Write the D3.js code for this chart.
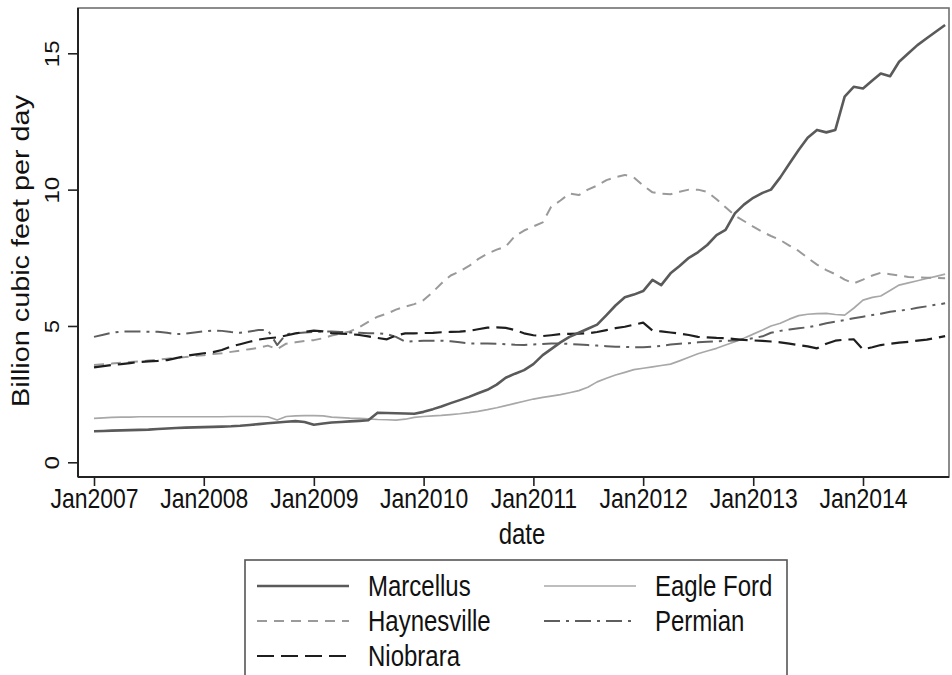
<!DOCTYPE html>
<html>
<head>
<meta charset="utf-8">
<script src="https://cdn.jsdelivr.net/npm/d3@7"></script>
<style>
  html, body { margin: 0; padding: 0; background: #fff; }
  svg { display: block; font-family: "Liberation Sans", Arial, Helvetica, sans-serif; }
</style>
</head>
<body>
<svg id="chart" width="952" height="675"></svg>
<script>
// Monthly dry gas production by shale play, Jan 2007 – Oct 2014 (Bcf/d)
const startMonth = "2007-01";
const monthCount = 94;

const marcellus = [
  1.14, 1.15, 1.16, 1.17, 1.18, 1.19, 1.20, 1.22, 1.24, 1.26, 1.27, 1.28,
  1.29, 1.30, 1.31, 1.32, 1.34, 1.37, 1.40, 1.43, 1.46, 1.49, 1.51, 1.48,
  1.38, 1.42, 1.46, 1.48, 1.50, 1.52, 1.54, 1.82, 1.81, 1.80, 1.79, 1.78,
  1.85, 1.95, 2.05, 2.17, 2.28, 2.40, 2.53, 2.66, 2.85, 3.10, 3.25, 3.38,
  3.60, 3.93, 4.15, 4.40, 4.60, 4.75, 4.90, 5.05, 5.40, 5.75, 6.05, 6.15,
  6.28, 6.69, 6.50, 6.93, 7.20, 7.50, 7.70, 7.97, 8.33, 8.52, 9.13, 9.45,
  9.70, 9.88, 10.00, 10.45, 10.95, 11.45, 11.90, 12.19, 12.10, 12.19, 13.41, 13.77,
  13.71, 14.00, 14.26, 14.16, 14.69, 15.00, 15.30, 15.55, 15.80, 16.04
];

const haynesville = [
  3.57, 3.60, 3.62, 3.65, 3.68, 3.70, 3.73, 3.76, 3.80, 3.83, 3.86, 3.90,
  3.93, 3.97, 4.00, 4.05, 4.10, 4.15, 4.20, 4.28, 4.15, 4.35, 4.40, 4.45,
  4.48, 4.55, 4.65, 4.72, 4.80, 4.95, 5.15, 5.34, 5.45, 5.60, 5.71, 5.80,
  5.95, 6.25, 6.56, 6.85, 7.00, 7.20, 7.45, 7.65, 7.80, 7.91, 8.30, 8.50,
  8.65, 8.80, 9.37, 9.60, 9.86, 9.80, 10.00, 10.15, 10.35, 10.45, 10.54, 10.45,
  10.15, 9.90, 9.85, 9.83, 9.92, 10.00, 10.00, 9.92, 9.65, 9.35, 9.05, 8.85,
  8.64, 8.45, 8.30, 8.15, 7.95, 7.75, 7.50, 7.25, 7.05, 6.90, 6.70, 6.56,
  6.70, 6.85, 6.95, 6.90, 6.85, 6.80, 6.78, 6.77, 6.76, 6.75
];

const niobrara = [
  3.48, 3.53, 3.57, 3.60, 3.64, 3.68, 3.70, 3.72, 3.75, 3.82, 3.90, 3.95,
  4.00, 4.04, 4.12, 4.25, 4.33, 4.42, 4.50, 4.55, 4.58, 4.65, 4.73, 4.78,
  4.83, 4.80, 4.74, 4.72, 4.70, 4.67, 4.62, 4.56, 4.51, 4.65, 4.73, 4.73,
  4.74, 4.75, 4.77, 4.78, 4.79, 4.82, 4.88, 4.94, 4.95, 4.93, 4.85, 4.73,
  4.66, 4.63, 4.66, 4.70, 4.71, 4.72, 4.73, 4.78, 4.85, 4.92, 4.97, 5.05,
  5.12, 4.83, 4.80, 4.76, 4.72, 4.67, 4.60, 4.58, 4.56, 4.55, 4.52, 4.49,
  4.47, 4.45, 4.43, 4.40, 4.35, 4.30, 4.25, 4.18, 4.35, 4.46, 4.50, 4.51,
  4.14, 4.22, 4.30, 4.35, 4.39, 4.42, 4.46, 4.50, 4.56, 4.63
];

const eagleFord = [
  1.61, 1.63, 1.65, 1.66, 1.66, 1.67, 1.67, 1.67, 1.67, 1.67, 1.67, 1.67,
  1.67, 1.67, 1.67, 1.68, 1.68, 1.68, 1.68, 1.67, 1.55, 1.68, 1.70, 1.71,
  1.71, 1.70, 1.66, 1.64, 1.62, 1.61, 1.59, 1.57, 1.56, 1.55, 1.58, 1.65,
  1.68, 1.70, 1.72, 1.75, 1.78, 1.82, 1.87, 1.93, 2.00, 2.08, 2.16, 2.24,
  2.32, 2.38, 2.43, 2.48, 2.55, 2.63, 2.75, 2.95, 3.08, 3.20, 3.30, 3.40,
  3.45, 3.50, 3.55, 3.60, 3.72, 3.85, 3.98, 4.08, 4.18, 4.30, 4.42, 4.55,
  4.70, 4.85, 5.00, 5.10, 5.25, 5.38, 5.43, 5.45, 5.46, 5.42, 5.40, 5.65,
  5.95, 6.05, 6.10, 6.30, 6.50, 6.58, 6.66, 6.74, 6.82, 6.90
];

const permian = [
  4.60, 4.68, 4.75, 4.79, 4.80, 4.80, 4.79, 4.79, 4.75, 4.70, 4.72, 4.76,
  4.80, 4.83, 4.82, 4.78, 4.75, 4.80, 4.85, 4.85, 4.30, 4.70, 4.73, 4.76,
  4.78, 4.80, 4.80, 4.78, 4.76, 4.75, 4.73, 4.73, 4.70, 4.60, 4.42, 4.44,
  4.46, 4.46, 4.46, 4.44, 4.40, 4.36, 4.36, 4.36, 4.35, 4.33, 4.31, 4.30,
  4.32, 4.34, 4.36, 4.36, 4.34, 4.32, 4.30, 4.28, 4.26, 4.24, 4.23, 4.22,
  4.22, 4.24, 4.27, 4.32, 4.35, 4.37, 4.40, 4.42, 4.44, 4.45, 4.47, 4.50,
  4.55, 4.62, 4.75, 4.82, 4.87, 4.92, 4.95, 5.02, 5.10, 5.16, 5.22, 5.28,
  5.34, 5.40, 5.45, 5.52, 5.56, 5.60, 5.67, 5.72, 5.78, 5.83
];

const yTicks = [0, 5, 10, 15];
const xTickYears = [2007, 2008, 2009, 2010, 2011, 2012, 2013, 2014];

const seriesNames = ["Marcellus", "Eagle Ford", "Haynesville", "Permian", "Niobrara"];
const seriesValues = [marcellus, eagleFord, haynesville, permian, niobrara];

// Stata-style monochrome line patterns
const styles = {
  "Marcellus":   { color: "#5a5a5a", width: 2.6, dash: null },
  "Eagle Ford":  { color: "#a8a8a8", width: 1.7, dash: null },
  "Haynesville": { color: "#9a9a9a", width: 2.0, dash: "10,7" },
  "Permian":     { color: "#5e5e5e", width: 2.0, dash: "16,6,3,6" },
  "Niobrara":    { color: "#1e1e1e", width: 2.2, dash: "17,7" }
};

// text is set slightly tall, as in the Stata export
const FONT = 24;
const STRETCH = 1.2;

const svg = d3.select("#chart");

const frame = { left: 78, right: 949, top: 8, bottom: 477 };

const parseMonth = d3.utcParse("%Y-%m");
const t0 = parseMonth(startMonth);
const dates = d3.range(monthCount).map(i => d3.utcMonth.offset(t0, i));

const x = d3.scaleUtc()
  .domain([new Date(Date.UTC(2007, 0, 1)), new Date(Date.UTC(2014, 0, 1))])
  .range([94, 863]);

const y = d3.scaleLinear()
  .domain([0, 15])
  .range([462.3, 53.3]);

// plot region outline
svg.append("rect")
  .attr("x", frame.left).attr("y", frame.top)
  .attr("width", frame.right - frame.left)
  .attr("height", frame.bottom - frame.top)
  .attr("fill", "none")
  .attr("stroke", "#707070")
  .attr("stroke-width", 1.6);

// series lines
const line = d3.line()
  .x((d, i) => x(dates[i]))
  .y(d => y(d));

const drawOrder = ["Eagle Ford", "Haynesville", "Permian", "Niobrara", "Marcellus"];
drawOrder.forEach(name => {
  const vals = seriesValues[seriesNames.indexOf(name)];
  const s = styles[name];
  svg.append("path")
    .datum(vals)
    .attr("fill", "none")
    .attr("stroke", s.color)
    .attr("stroke-width", s.width)
    .attr("stroke-linejoin", "round")
    .attr("stroke-dasharray", s.dash)
    .attr("d", line);
});

// y axis
const yAxis = d3.axisLeft(y)
  .tickValues(yTicks)
  .tickSize(10)
  .tickFormat(d3.format("d"));
const yg = svg.append("g")
  .attr("transform", `translate(${frame.left},0)`)
  .call(yAxis);
yg.attr("font-family", null).attr("font-size", null);
yg.select(".domain")
  .attr("d", `M0,${frame.bottom}V${frame.top}`)
  .attr("stroke", "#222").attr("stroke-width", 2);
yg.selectAll(".tick line").attr("stroke", "#222").attr("stroke-width", 1.6);
yg.selectAll(".tick text")
  .attr("x", null).attr("dy", null)
  .attr("transform", `translate(-19,0) rotate(-90) scale(${STRETCH},1)`)
  .attr("text-anchor", "middle")
  .attr("fill", "#111")
  .style("font-size", "20px");

// x axis
const xAxis = d3.axisBottom(x)
  .tickValues(xTickYears.map(yr => new Date(Date.UTC(yr, 0, 1))))
  .tickSize(9)
  .tickFormat(d3.utcFormat("%b%Y"));
const xg = svg.append("g")
  .attr("transform", `translate(0,${frame.bottom})`)
  .call(xAxis);
xg.attr("font-family", null).attr("font-size", null);
xg.select(".domain")
  .attr("d", `M${frame.left},0H${frame.right}`)
  .attr("stroke", "#222").attr("stroke-width", 2.2);
xg.selectAll(".tick line").attr("stroke", "#222").attr("stroke-width", 1.6);
xg.selectAll(".tick text")
  .attr("y", null).attr("dy", null)
  .attr("transform", `translate(0,31) scale(1,${STRETCH})`)
  .attr("fill", "#111")
  .style("font-size", "23px");

// axis titles
svg.append("text")
  .attr("transform", `translate(29,251) rotate(-90) scale(${STRETCH},1)`)
  .attr("text-anchor", "middle")
  .attr("fill", "#111")
  .style("font-size", FONT + "px")
  .text("Billion cubic feet per day");

svg.append("text")
  .attr("transform", `translate(522,544) scale(1,${STRETCH})`)
  .attr("text-anchor", "middle")
  .attr("fill", "#111")
  .style("font-size", FONT + "px")
  .text("date");

// legend
const legend = svg.append("g");
legend.append("rect")
  .attr("x", 245).attr("y", 560)
  .attr("width", 542).attr("height", 140)
  .attr("fill", "#fff")
  .attr("stroke", "#555")
  .attr("stroke-width", 1.6);

const legendLayout = [
  { name: "Marcellus",   col: 0, row: 0 },
  { name: "Eagle Ford",  col: 1, row: 0 },
  { name: "Haynesville", col: 0, row: 1 },
  { name: "Permian",     col: 1, row: 1 },
  { name: "Niobrara",    col: 0, row: 2 }
];
const colX = [257, 544];
const rowY = [586, 621, 656];

legendLayout.forEach(e => {
  const s = styles[e.name];
  const lx = colX[e.col], ly = rowY[e.row];
  legend.append("line")
    .attr("x1", lx).attr("x2", lx + 92)
    .attr("y1", ly).attr("y2", ly)
    .attr("stroke", s.color)
    .attr("stroke-width", s.width)
    .attr("stroke-dasharray", s.dash);
  legend.append("text")
    .attr("transform", `translate(${lx + 111},${ly + 10}) scale(1,${STRETCH})`)
    .attr("fill", "#111")
    .style("font-size", FONT + "px")
    .text(e.name);
});
</script>
</body>
</html>
